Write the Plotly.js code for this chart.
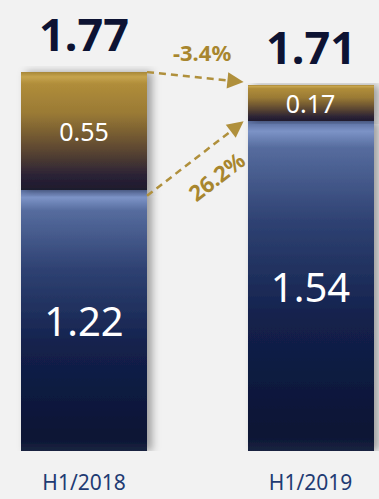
<!DOCTYPE html>
<html><head><meta charset="utf-8">
<script src="https://cdn.plot.ly/plotly-3.0.1.min.js"></script>
<style>html,body{margin:0;padding:0;background:#f2f2f2;}#chart{width:379px;height:499px;}</style>
</head><body><div id="chart"></div>
<script>
// ---- data ----
const categories = ['H1/2018', 'H1/2019'];
const baseValues = [1.22, 1.54];
const topValues = [0.55, 0.17];
const totals = [1.77, 1.71];
const changeLabels = ['-3.4%', '26.2%'];

// ---- layout constants ----
const W = 379, H = 499, marginB = 48;
const plotH = H - marginB;
const xRange = [-0.371, 1.302];
const yRange = [0, 2.107];
const barW = 0.556;
const pxX = W / (xRange[1] - xRange[0]);
const pxY = plotH / (yRange[1] - yRange[0]);
const gold = '#b0903c';
const labelFont = 'Noto Sans, Open Sans, sans-serif';

const traces = [
  {type: 'bar', x: categories, y: baseValues, width: barW,
   marker: {color: '#2a3a68', line: {width: 0}},
   text: baseValues.map(v => v.toFixed(2)), textposition: 'inside', insidetextanchor: 'middle',
   constraintext: 'none', textfont: {family: labelFont, size: 40, color: '#ffffff'},
   hoverinfo: 'none'},
  {type: 'bar', x: categories, y: topValues, width: barW,
   marker: {color: '#7a6030', line: {width: 0}},
   text: topValues.map(v => v.toFixed(2)), textposition: 'inside', insidetextanchor: 'middle',
   constraintext: 'none', textfont: {family: labelFont, size: 25, color: '#ffffff'},
   hoverinfo: 'none'}
];

const shapes = [], annotations = [];

// totals on top of bars
totals.forEach((t, i) => {
  annotations.push({x: i, y: t, xref: 'x', yref: 'y', text: t.toFixed(2), showarrow: false,
    yanchor: 'bottom', yshift: 6, font: {family: labelFont, size: 45, color: '#0d1333', weight: 700}});
});

function arrow(x0, y0, x1, y1, label, offPerp, offAlong, rotate) {
  const dxp = (x1 - x0) * pxX, dyp = -(y1 - y0) * pxY;
  const L = Math.hypot(dxp, dyp);
  const ux = dxp / L, uy = dyp / L;
  const head = 13;
  shapes.push({type: 'line', xref: 'x', yref: 'y', x0: x0, y0: y0,
    x1: x1 - ux * head / pxX, y1: y1 + uy * head / pxY,
    line: {color: gold, width: 2.5, dash: '7px,5px'}});
  annotations.push({x: x1, y: y1, xref: 'x', yref: 'y', ax: -ux * 16, ay: -uy * 16,
    showarrow: true, arrowhead: 2, arrowsize: 1.3, arrowwidth: 2.5, arrowcolor: gold, text: ''});
  const mx = (x0 + x1) / 2, my = (y0 + y1) / 2;
  const nx = -uy, ny = ux; // screen normal
  annotations.push({x: mx, y: my, xref: 'x', yref: 'y', text: label, showarrow: false,
    xshift: nx * offPerp + ux * offAlong, yshift: -(ny * offPerp + uy * offAlong),
    textangle: rotate ? Math.atan2(uy, ux) * 180 / Math.PI : 0,
    font: {family: labelFont, size: 22, color: '#a8862e', weight: 700}});
}
const edgeL = barW / 2, edgeR = 1 - barW / 2 - 4 / pxX;
arrow(edgeL, totals[0], edgeR, totals[1] + 3 / pxY, changeLabels[0], -26, 4, false);
arrow(edgeL, baseValues[0] - 6 / pxY, edgeR, baseValues[1], changeLabels[1], 26, 6, true);

const layout = {
  width: W, height: H, barmode: 'stack', showlegend: false,
  margin: {l: 0, r: 0, t: 0, b: marginB},
  paper_bgcolor: '#f2f2f2', plot_bgcolor: '#f2f2f2',
  xaxis: {range: xRange, showgrid: false, zeroline: false, showline: false, ticks: '',
    ticklabelstandoff: 17, tickfont: {family: labelFont, size: 21, color: '#1f3b73'}},
  yaxis: {range: yRange, visible: false, showgrid: false, zeroline: false},
  shapes: shapes, annotations: annotations
};

Plotly.newPlot('chart', traces, layout, {staticPlot: true}).then(gd => {
  const svg = gd.querySelector('svg.main-svg');
  const NS = 'http://www.w3.org/2000/svg';
  let defs = svg.querySelector('defs');
  if (!defs) { defs = document.createElementNS(NS, 'defs'); svg.insertBefore(defs, svg.firstChild); }
  function grad(id, stops) {
    const g = document.createElementNS(NS, 'linearGradient');
    g.setAttribute('id', id); g.setAttribute('x1', '0'); g.setAttribute('y1', '0');
    g.setAttribute('x2', '0'); g.setAttribute('y2', '1');
    stops.forEach(([o, c]) => {
      const s = document.createElementNS(NS, 'stop');
      s.setAttribute('offset', o); s.setAttribute('stop-color', c); g.appendChild(s);
    });
    defs.appendChild(g);
  }
  grad('gBlue', [[0, '#5a6d9e'], [0.03, '#7c93c6'], [0.08, '#566c9e'], [0.3, '#2f4273'], [0.6, '#13214c'], [0.95, '#0a1434'], [1, '#1a2440']]);
  grad('gGold', [[0, '#a88838'], [0.04, '#c6a44e'], [0.1, '#b08d3a'], [0.35, '#9a7a35'], [0.65, '#5e4830'], [0.88, '#2a2236'], [1, '#1e1a2c']]);
  const f = document.createElementNS(NS, 'filter');
  f.setAttribute('id', 'shadow'); f.setAttribute('x', '-20%'); f.setAttribute('y', '-5%');
  f.setAttribute('width', '140%'); f.setAttribute('height', '110%');
  const ds = document.createElementNS(NS, 'feDropShadow');
  ds.setAttribute('dx', '5'); ds.setAttribute('dy', '0'); ds.setAttribute('stdDeviation', '4');
  ds.setAttribute('flood-color', '#000'); ds.setAttribute('flood-opacity', '0.35');
  f.appendChild(ds); defs.appendChild(f);
  const traceEls = gd.querySelectorAll('.barlayer .trace');
  traceEls.forEach((t, i) => {
    t.querySelectorAll('.point path').forEach(p => {
      p.style.fill = i === 0 ? 'url(#gBlue)' : 'url(#gGold)';
      p.setAttribute('filter', 'url(#shadow)');
    });
  });
});
</script></body></html>
